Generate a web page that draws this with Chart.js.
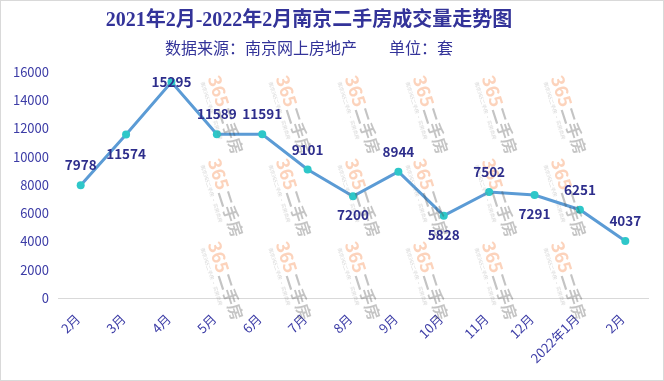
<!DOCTYPE html>
<html>
<head>
<meta charset="utf-8">
<script src="https://cdn.jsdelivr.net/npm/chart.js@4.4.0/dist/chart.umd.min.js"></script>
<style>
	html, body { margin: 0; padding: 0; background: #fff; }
	#box { width: 664px; height: 381px; box-sizing: border-box; border: 1px solid #d9d9d9; background: #fff; }
	#chart { display: block; }
</style>
</head>
<body>
<div id="box"><canvas id="chart" width="662" height="379"></canvas></div>
<script>

const chartTitle = '2021年2月-2022年2月南京二手房成交量走势图';
const chartSubtitle = '数据来源：南京网上房地产　　单位：套';

const months = ['2月', '3月', '4月', '5月', '6月', '7月', '8月', '9月', '10月', '11月', '12月', '2022年1月', '2月'];
const deals = [7978, 11574, 15295, 11589, 11591, 9101, 7200, 8944, 5828, 7502, 7291, 6251, 4037];

// where each value label sits relative to its point
const labelPlace = ['top', 'bottom', 'center', 'top', 'top', 'top', 'bottom', 'top', 'bottom', 'top', 'bottom', 'top', 'top'];

const navy = '#333399';
const cjk = '"Noto Sans CJK SC", "Noto Sans", sans-serif';

var titlePlugin = {
	id: 'titles',
	beforeDraw(chart) {
		const ctx = chart.ctx;
		ctx.save();
		ctx.fillStyle = navy;
		ctx.textAlign = 'center';
		ctx.textBaseline = 'middle';
		ctx.font = 'bold 20px "Liberation Serif", "Noto Sans CJK SC", serif';
		ctx.fillText(chartTitle, 308, 20);
		ctx.font = '16px ' + cjk;
		ctx.fillText(chartSubtitle, 308, 47);
		ctx.restore();
	}
};

// faint "365二手房" stamp pattern over the plot
var watermarkPlugin = {
	id: 'watermark',
	afterDatasetsDraw(chart) {
		const ctx = chart.ctx;
		const cols = [213, 281, 350, 418, 487, 556];
		const rows = [75, 158, 241];
		ctx.save();
		rows.forEach(function (y) {
			cols.forEach(function (x) {
				ctx.save();
				ctx.translate(x, y);
				ctx.rotate(72 * Math.PI / 180);
				ctx.textBaseline = 'middle';
				ctx.textAlign = 'left';
				ctx.font = 'bold 18px ' + cjk;
				ctx.fillStyle = 'rgba(246,140,80,0.38)';
				ctx.fillText('365', 0, 0);
				ctx.font = 'bold 16px ' + cjk;
				ctx.fillStyle = 'rgba(70,70,70,0.32)';
				ctx.fillText('二手房', 33, 1);
				ctx.font = '5px ' + cjk;
				ctx.fillStyle = 'rgba(120,120,120,0.3)';
				ctx.fillText('南京365二手房 · 买房卖房', 2, 13);
				ctx.restore();
			});
		});
		ctx.restore();
	}
};

var valueLabelPlugin = {
	id: 'valueLabels',
	afterDraw(chart) {
		const ctx = chart.ctx;
		const meta = chart.getDatasetMeta(0);
		ctx.save();
		ctx.fillStyle = '#2e2e8c';
		ctx.font = 'bold 13.5px ' + cjk;
		ctx.textAlign = 'center';
		ctx.textBaseline = 'middle';
		meta.data.forEach(function (pt, i) {
			let dy = 0;
			if (labelPlace[i] === 'top') dy = -20;
			if (labelPlace[i] === 'bottom') dy = 19;
			ctx.fillText(String(deals[i]), pt.x, pt.y + dy);
		});
		ctx.restore();
	}
};

document.addEventListener('DOMContentLoaded', function () {
	const ctx = document.getElementById('chart').getContext('2d');
	new Chart(ctx, {
		type: 'line',
		data: {
			labels: months,
			datasets: [{
				data: deals,
				borderColor: '#5b9bd5',
				borderWidth: 3,
				tension: 0,
				pointRadius: 4,
				pointBorderWidth: 0,
				pointBackgroundColor: '#2ec7c9',
				pointBorderColor: '#2ec7c9'
			}]
		},
		options: {
			responsive: false,
			animation: false,
			layout: { padding: { top: 71, right: 15, left: 0, bottom: 0 } },
			plugins: {
				legend: { display: false },
				tooltip: { enabled: false },
				title: { display: false }
			},
			scales: {
				x: {
					offset: true,
					grid: { display: false },
					border: { display: true, color: '#d9d9d9', width: 1 },
					ticks: {
						color: '#3c3ca6',
						font: { family: cjk, size: 13 },
						maxRotation: 45,
						minRotation: 45,
						autoSkip: false,
						padding: 5,
						labelOffset: -3
					},
					afterFit(scale) { scale.height = 82; }
				},
				y: {
					min: 0,
					max: 16000,
					grid: { display: false },
					border: { display: false },
					ticks: {
						stepSize: 2000,
						color: '#3c3ca6',
						font: { family: cjk, size: 13 },
						padding: 1,
						callback: function (v) { return String(v); }
					},
					afterFit(scale) { scale.width = 57; }
				}
			}
		},
		plugins: [titlePlugin, watermarkPlugin, valueLabelPlugin]
	});
});
</script>
</body>
</html>
